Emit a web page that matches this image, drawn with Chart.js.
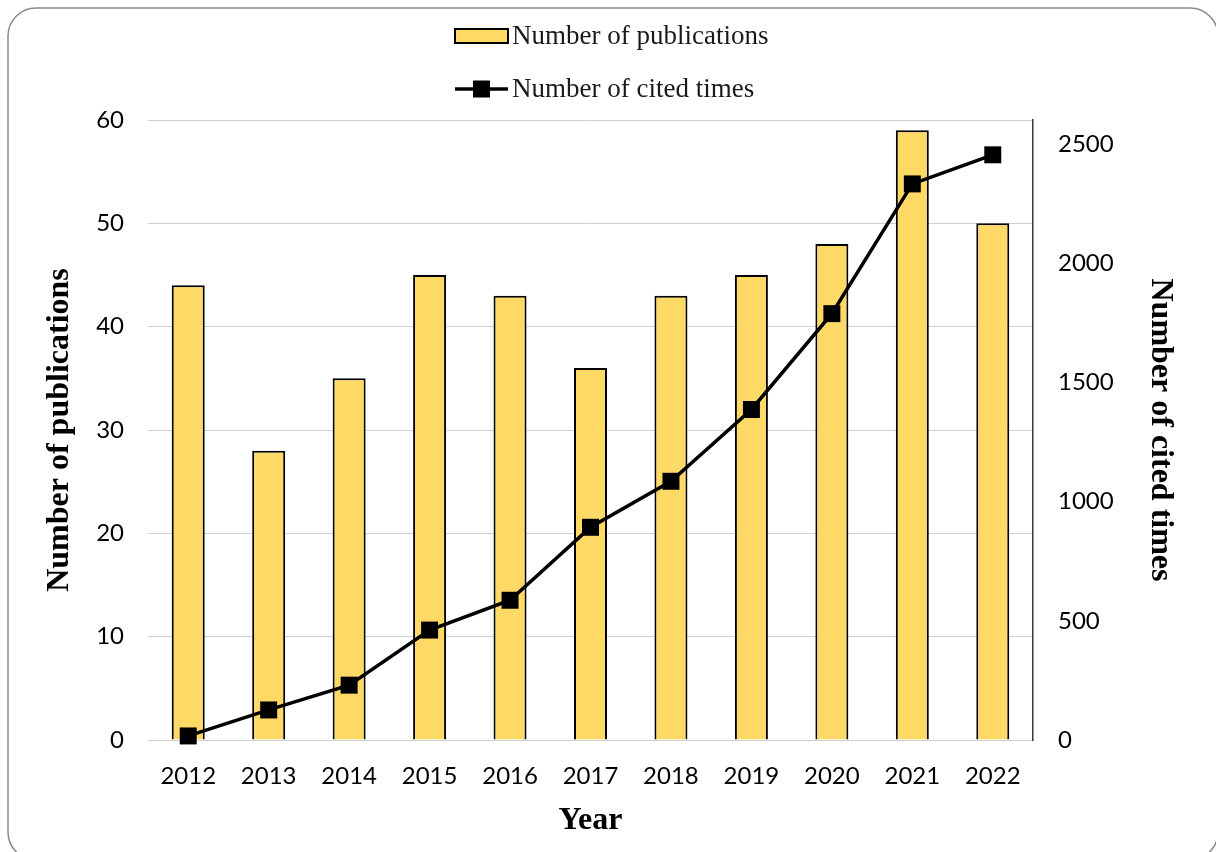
<!DOCTYPE html>
<html>
<head>
<meta charset="utf-8">
<script src="https://cdn.jsdelivr.net/npm/chart.js@4.4.1/dist/chart.umd.min.js"></script>
<style>
  html, body { margin: 0; padding: 0; background: #fff; }
  #wrap { position: relative; width: 1216px; height: 852px; }
</style>
</head>
<body>
<div id="wrap"><canvas id="pubChart"></canvas></div>
<script>
// Datos: publicaciones por año y número de citas
const years = ['2012', '2013', '2014', '2015', '2016', '2017', '2018', '2019', '2020', '2021', '2022'];
const publications = [44, 28, 35, 45, 43, 36, 43, 45, 48, 59, 50];
const citedTimes = [17, 126, 230, 461, 586, 892, 1085, 1386, 1788, 2332, 2454];

const leftTickValues = [0, 10, 20, 30, 40, 50, 60];
const rightTickValues = [0, 500, 1000, 1500, 2000, 2500];
const rightMax = 2600;

const tickFont = { family: 'Lato, "Open Sans", sans-serif', size: 24 };
const titleFont = { family: '"Liberation Serif", "Times New Roman", serif', size: 32, weight: 'bold' };
const gridColor = '#d0d0d0';

// Marco redondeado alrededor de todo el gráfico
const framePlugin = {
  id: 'frame',
  beforeDraw(chart) {
    const ctx = chart.ctx;
    ctx.save();
    ctx.strokeStyle = '#8c8c8c';
    ctx.lineWidth = 1.5;
    ctx.beginPath();
    ctx.roundRect(8, 8, 1210, 852, 28);
    ctx.stroke();
    ctx.restore();
  }
};

// Leyenda en dos filas, dibujada a partir de los datasets
const twoRowLegend = {
  id: 'twoRowLegend',
  afterDraw(chart) {
    const ctx = chart.ctx;
    const ds = chart.data.datasets;
    const x0 = 455, symW = 53, textX = 512;
    const rows = [36, 89];
    ctx.save();
    ctx.font = '27px "Liberation Serif", "Times New Roman", serif';
    ctx.textBaseline = 'middle';
    ctx.textAlign = 'left';
    ds.forEach((d, i) => {
      const y = rows[i];
      if (d.type === 'line') {
        ctx.strokeStyle = d.borderColor;
        ctx.lineWidth = d.borderWidth;
        ctx.beginPath();
        ctx.moveTo(x0, y);
        ctx.lineTo(x0 + symW, y);
        ctx.stroke();
        ctx.fillStyle = d.pointBackgroundColor;
        ctx.fillRect(x0 + symW / 2 - 8.5, y - 8.5, 17, 17);
      } else {
        ctx.fillStyle = d.backgroundColor;
        ctx.fillRect(x0, y - 7, symW, 14);
        ctx.strokeStyle = d.borderColor;
        ctx.lineWidth = d.borderWidth;
        ctx.strokeRect(x0, y - 7, symW, 14);
      }
      ctx.fillStyle = '#1a1a1a';
      ctx.fillText(d.label, textX, y + 1);
    });
    ctx.restore();
  }
};

const ctx = document.getElementById('pubChart').getContext('2d');
const pubChart = new Chart(ctx, {
  data: {
    labels: years,
    datasets: [
      {
        type: 'bar',
        label: 'Number of publications',
        data: publications,
        yAxisID: 'y',
        backgroundColor: '#FFD966',
        borderColor: '#000000',
        borderWidth: 2,
        barPercentage: 0.41,
        categoryPercentage: 1,
        order: 2
      },
      {
        type: 'line',
        label: 'Number of cited times',
        data: citedTimes,
        yAxisID: 'y1',
        borderColor: '#000000',
        borderWidth: 3.5,
        tension: 0,
        pointStyle: 'rect',
        pointRadius: 12,
        pointBackgroundColor: '#000000',
        pointBorderWidth: 0,
        clip: false,
        order: 1
      }
    ]
  },
  options: {
    responsive: true,
    maintainAspectRatio: false,
    animation: false,
    layout: { padding: { top: 120, left: 0, right: 0, bottom: 0 } },
    plugins: {
      legend: { display: false },
      tooltip: { enabled: false }
    },
    scales: {
      x: {
        grid: { display: false, drawTicks: false },
        border: { display: true, color: gridColor, width: 1 },
        ticks: { color: '#000', font: tickFont, padding: 22, maxRotation: 0 },
        title: { display: true, text: 'Year', color: '#000', font: titleFont, padding: { top: 0, bottom: 12 } },
        afterFit(scale) { scale.height = 112; }
      },
      y: {
        position: 'left',
        min: leftTickValues[0],
        max: leftTickValues[leftTickValues.length - 1],
        grid: { color: gridColor, lineWidth: 1, drawTicks: false },
        border: { display: false },
        ticks: { color: '#000', font: tickFont, padding: 24 },
        afterBuildTicks(scale) { scale.ticks = leftTickValues.map(v => ({ value: v })); },
        title: { display: true, text: 'Number of publications', color: '#000', font: titleFont, padding: { top: 41, bottom: 0 } },
        afterFit(scale) { scale.width = 148; }
      },
      y1: {
        position: 'right',
        min: rightTickValues[0],
        max: rightMax,
        grid: { display: false, drawTicks: false },
        border: { display: true, color: '#3a3a3a', width: 1.5 },
        ticks: { color: '#000', font: tickFont, padding: 25, callback: v => String(v) },
        afterBuildTicks(scale) { scale.ticks = rightTickValues.map(v => ({ value: v })); },
        title: { display: true, text: 'Number of cited times', color: '#000', font: titleFont, padding: { top: 37, bottom: 0 } },
        afterFit(scale) { scale.width = 1216 - 1033; }
      }
    }
  },
  plugins: [framePlugin, twoRowLegend]
});
</script>
</body>
</html>
